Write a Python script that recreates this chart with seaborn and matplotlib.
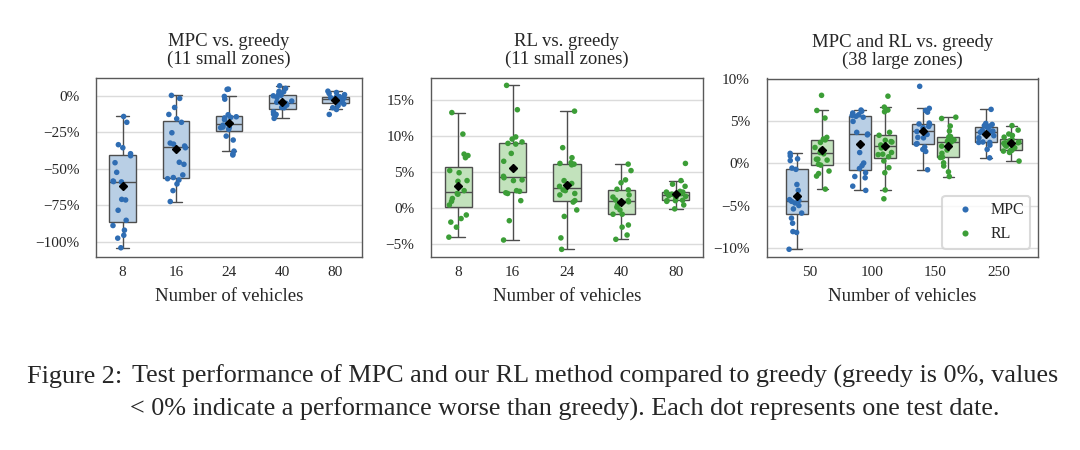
import numpy as np
import pandas as pd
import seaborn as sns
import matplotlib.pyplot as plt
from matplotlib.ticker import FuncFormatter

# performance relative to greedy (%), one value per test date

small_fleets = ['8', '16', '24', '40', '80']
large_fleets = ['50', '100', '150', '250']

mpc_small_8 = [-14, -18, -33.4, -35.5, -39.6, -41, -45.8, -52.4, -58.8, -59,
               -58.4, -71, -71.4, -78.5, -85.4, -92.2, -89, -95.7, -97.7, -104.3]
mpc_small_16 = [0.5, -1.6, -7.8, -12.6, -15.6, -18, -25.2, -32.3, -33, -34.3,
                -35.5, -45.5, -46.9, -54.2, -56, -56.8, -57.7, -60.4, -65, -72.5]
mpc_small_24 = [4.6, 4.8, -0.2, -2.1, -12.8, -14.2, -14.6, -15, -16.2, -19,
                -20, -21.3, -21.5, -21.7, -22.9, -27.5, -30.2, -37.8, -39.8, -40.5]
mpc_small_40 = [7.1, 5.3, 3.2, 3.0, 1.2, 0.6, 0.2, -1.1, -3.4, -4.2,
                -5.0, -5.6, -6.2, -7.8, -8.0, -10.8, -12.4, -12.6, -13.7, -15.3]
mpc_small_80 = [3.4, 2.5, 1.8, 1.0, -0.4, -0.7, -0.5, -1.0, -1.3, -1.6,
                -1.8, -2.2, -3.0, -3.5, -4.5, -5.5, -6.5, -8.0, -9.2, -12.6]

rl_small_8 = [13.3, 10.3, 7.5, 7.3, 7.0, 4.9, 5.2, 3.7, 3.8, 2.4,
              1.9, 2.0, 1.3, 0.9, 0.4, -1.0, -1.5, -2.0, -2.7, -4.1]
rl_small_16 = [17.1, 13.7, 9.9, 9.6, 9.0, 8.9, 9.2, 7.6, 6.5, 4.4,
               4.2, 3.9, 3.8, 2.3, 2.1, 2.0, 2.4, 1.0, -1.8, -4.5]
rl_small_24 = [13.5, 8.4, 7.0, 6.2, 6.3, 6.1, 6.0, 3.8, 3.4, 3.0,
               2.5, 2.4, 2.0, 1.8, 1.0, 0.8, -0.3, -1.2, -4.2, -5.8]
rl_small_40 = [6.1, 5.2, 3.9, 3.5, 2.6, 2.5, 1.8, 1.5, 1.1, 1.0,
               0.85, 0.4, 0.1, -0.3, -0.9, -0.9, -2.4, -2.7, -3.8, -4.4]
rl_small_80 = [6.2, 3.8, 3.3, 3.0, 2.3, 2.2, 2.2, 2.1, 2.0, 1.9,
               1.8, 1.7, 1.6, 1.4, 1.05, 1.0, 1.0, 0.9, 0.4, -0.15]

mpc_large_50 = [1.2, 0.9, 0.55, 0.35, -0.55, -0.7, -2.5, -3.2, -4.4, -4.7,
                -5.0, -4.5, -5.4, -5.9, -6.5, -7.1, -8.1, -8.2, -10.2, -4.3]
rl_large_50 = [8.1, 6.3, 5.4, 3.1, 2.9, 2.8, 2.5, 1.9, 1.6, 1.3,
               1.15, 0.5, 0.5, 0.4, -0.1, -0.2, -0.9, -1.2, -1.5, -3.05]
mpc_large_100 = [6.35, 6.2, 6.0, 5.8, 5.7, 5.6, 5.5, 5.0, 3.7, 3.5,
                 3.4, 1.3, 0.05, -0.25, -0.6, -1.1, -1.55, -1.7, -2.7, -3.2]
rl_large_100 = [8.0, 6.7, 6.35, 6.15, 3.7, 3.35, 2.75, 2.6, 2.55, 2.2,
                1.85, 1.3, 1.1, 1.05, 0.8, 0.3, -0.5, -1.1, -3.15, -4.2]
mpc_large_150 = [9.17, 6.55, 6.3, 6.1, 4.8, 4.7, 4.65, 4.4, 4.25, 3.85,
                 3.8, 3.45, 3.1, 3.05, 2.35, 2.3, 1.95, 1.67, 1.43, -0.75]
rl_large_150 = [5.5, 5.35, 4.45, 3.85, 3.2, 3.15, 3.05, 2.8, 2.65, 2.6,
                2.55, 2.06, 1.6, 1.2, 0.75, 0.7, 0.08, -0.3, -1.0, -1.55]
mpc_large_250 = [6.43, 4.76, 4.64, 4.5, 4.44, 4.35, 4.25, 3.93, 3.85, 3.75,
                 3.7, 3.45, 3.3, 3.05, 2.55, 2.5, 2.5, 2.18, 1.67, 0.67]
rl_large_250 = [4.5, 3.97, 3.5, 3.33, 3.13, 2.86, 2.7, 2.55, 2.46, 2.45,
                2.4, 2.18, 2.06, 1.87, 1.6, 1.58, 1.55, 1.47, 1.31, 0.28]

caption_1 = 'Test performance of MPC and our RL method compared to greedy (greedy is 0%, values'
caption_2 = '< 0% indicate a performance worse than greedy). Each dot represents one test date.'


def long_df(method, fleets, groups):
    rows = []
    for f, vals in zip(fleets, groups):
        for v in vals:
            rows.append({'fleet': f, 'method': method, 'value': v})
    return pd.DataFrame(rows)


df_mpc = long_df('MPC', small_fleets, [mpc_small_8, mpc_small_16, mpc_small_24,
                                       mpc_small_40, mpc_small_80])
df_rl = long_df('RL', small_fleets, [rl_small_8, rl_small_16, rl_small_24,
                                     rl_small_40, rl_small_80])
df_large = pd.concat([
    long_df('MPC', large_fleets, [mpc_large_50, mpc_large_100, mpc_large_150, mpc_large_250]),
    long_df('RL', large_fleets, [rl_large_50, rl_large_100, rl_large_150, rl_large_250]),
])

dot_colors = {'MPC': '#2f6db3', 'RL': '#3c9e37'}
box_colors = {'MPC': '#b9cfe5', 'RL': '#c2e2bc'}

sns.set_theme(style='whitegrid')
plt.rcParams['font.family'] = ['Liberation Serif', 'DejaVu Serif']
plt.rcParams['axes.edgecolor'] = '0.35'
plt.rcParams['axes.linewidth'] = 1.0
plt.rcParams['grid.color'] = '0.86'

np.random.seed(3)

fig = plt.figure(figsize=(10.8, 4.5), dpi=100)
ax1 = fig.add_axes([96 / 1080, 1 - 256.5 / 450, 266 / 1080, 179 / 450])
ax2 = fig.add_axes([431 / 1080, 1 - 256.5 / 450, 272 / 1080, 179 / 450])
ax3 = fig.add_axes([766.7 / 1080, 1 - 256.5 / 450, 271.6 / 1080, 178 / 450])

mean_style = dict(marker='D', markerfacecolor='black', markeredgecolor='black',
                  markersize=4, zorder=5)
pct = FuncFormatter(lambda v, p: f'{v:.0f}%'.replace('-', '\u2212'))


def draw(ax, data, order, methods, width, gap, jitter, legend):
    sns.boxplot(data=data, x='fleet', y='value', hue='method', order=order,
                hue_order=methods, palette=box_colors, saturation=1, width=width,
                gap=gap, showfliers=False, showmeans=True, meanprops=mean_style,
                linecolor='0.3', linewidth=1, legend=False, ax=ax)
    sns.stripplot(data=data, x='fleet', y='value', hue='method', order=order,
                  hue_order=methods, palette=dot_colors, dodge=True, jitter=jitter,
                  size=4, linewidth=0, zorder=3, legend=legend, ax=ax)
    ax.yaxis.set_major_formatter(pct)
    ax.xaxis.grid(False)
    ax.yaxis.grid(True, lw=1)
    ax.tick_params(axis='y', length=0, pad=12, labelsize=11)
    ax.tick_params(axis='x', length=0, pad=7, labelsize=11)
    ax.set_xlabel('Number of vehicles', fontsize=13.5, labelpad=6)
    ax.set_ylabel('')
    for s in ax.spines.values():
        s.set_visible(True)


draw(ax1, df_mpc, small_fleets, ['MPC'], 0.5, 0, 0.19, False)
ax1.set_ylim(-110.3, 12.8)
ax1.set_yticks([-100, -75, -50, -25, 0])
ax1.set_title('MPC vs. greedy\n(11 small zones)', fontsize=13.5, linespacing=1.0, pad=10)

draw(ax2, df_rl, small_fleets, ['RL'], 0.5, 0, 0.19, False)
ax2.set_ylim(-6.8, 18.2)
ax2.set_yticks([-5, 0, 5, 10, 15])
ax2.set_title('RL vs. greedy\n(11 small zones)', fontsize=13.5, linespacing=1.0, pad=10)

draw(ax3, df_large, large_fleets, ['MPC', 'RL'], 0.8, 0.12, 0.25, True)
ax3.set_ylim(-11.06, 10.1)
ax3.set_xlim(-0.68, 3.63)
ax3.set_yticks([-10, -5, 0, 5, 10])
ax3.set_title('MPC and RL vs. greedy\n(38 large zones)', fontsize=13.5, linespacing=1.0, pad=10)
handles, labels = ax3.get_legend_handles_labels()
leg = ax3.legend(handles, labels, loc='lower right', fontsize=11.5, frameon=True,
                 handletextpad=0.6, markerscale=1.1)
leg.get_frame().set_edgecolor('0.82')
leg.get_frame().set_linewidth(1.5)

fig.text(122 / 1080, 1 - 383 / 450, 'Figure 2:', fontsize=18.8, ha='right', va='baseline')
fig.text(132 / 1080, 1 - 383 / 450, caption_1, fontsize=18.8, ha='left', va='baseline')
fig.text(130 / 1080, 1 - 416 / 450, caption_2, fontsize=18.8, ha='left', va='baseline')

fig.savefig('out.png', dpi=100)
